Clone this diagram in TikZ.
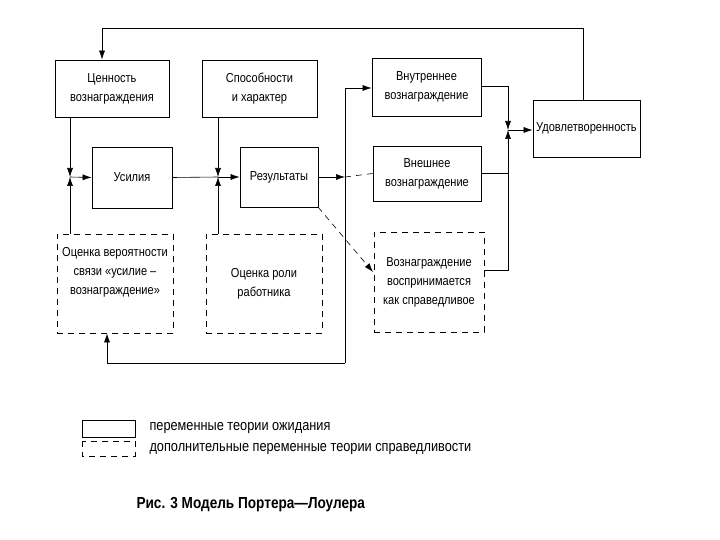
\documentclass[tikz,border=0pt]{standalone}
\usepackage{fontspec}
\setmainfont[FakeStretch=0.85]{Liberation Sans}
\usetikzlibrary{arrows.meta}
\begin{document}
\begin{tikzpicture}[x=1pt,y=-1pt,
 box/.style={draw,thick,align=center,font=\fontsize{13}{19}\selectfont,inner sep=1pt},
 dbox/.style={box,dashed,dash pattern=on 6pt off 5pt},
 ln/.style={semithick},
 ar/.style={semithick,-{Latex[length=9pt,width=6pt]}}]
\path[use as bounding box] (0,0) rectangle (720,540);
\node[box,minimum width=114,minimum height=57] (cen) at (112,88.5) {Ценность\\вознаграждения};
\node[box,minimum width=115,minimum height=57] (spo) at (259.5,88.5) {Способности\\и характер};
\node[box,minimum width=80,minimum height=61] (usi) at (132,177.5) {Усилия};
\node[box,minimum width=78,minimum height=60] (res) at (279,177) {Результаты};
\node[dbox,minimum width=116,minimum height=99] (ocv) at (115,283.5) {Оценка вероятности\\связи «усилие –\\вознаграждение»\\[6pt]};
\node[dbox,minimum width=116,minimum height=99] (ocr) at (264,283.5) {Оценка роли\\работника};
\node[box,minimum width=109,minimum height=58] (vnu) at (426.5,87) {Внутреннее\\вознаграждение};
\node[box,minimum width=108,minimum height=55] (vne) at (427,173.5) {Внешнее\\вознаграждение};
\node[dbox,minimum width=110,minimum height=100] (spr) at (429,282) {Вознаграждение\\воспринимается\\как справедливое};
\node[box,minimum width=107,minimum height=57] (udo) at (586.5,128.5) {Удовлетворенность};
\coordinate (j1) at (70,177);
\coordinate (j2) at (218,177);
\coordinate (j3) at (345,177);
\coordinate (j4) at (508,130);
\draw[ar] (udo.north -| 583,0) |- (102,28) -- (cen.north -| 102,0);
\draw[ar] (cen.south -| j1) -- (j1);
\draw[ar] (ocv.north -| j1) -- (j1);
\draw[ar] (j1) -- (usi.west);
\draw[ar] (spo.south -| j2) -- (j2);
\draw[ar] (ocr.north -| j2) -- (j2);
\draw[ln] (usi.east) -- (j2);
\draw[ar] (j2) -- (res.west);
\draw[ar] (res.east) -- (j3);
\draw[ln,dashed,dash pattern=on 6pt off 5pt] (j3) -- (vne.west);
\draw[ar] (345,363) |- (vnu.west |- 0,88);
\draw[ar] (345,363) -| (ocv.south -| 107,0);
\draw[ar,dashed,dash pattern=on 6pt off 5pt] (318,207) -- (373,272);
\draw[ar] (vnu.east |- 0,86) -| (j4);
\draw[ln] (vne.east) -- (508,173.5);
\draw[ar] (spr.east |- 0,270) -| (j4);
\draw[ar] (j4) -- (udo.west |- j4);
\draw[thick] (82,420) rectangle (135,437);
\draw[thick,dashed,dash pattern=on 6pt off 5pt] (82,441) rectangle (135,456);
\node[anchor=west,font=\fontsize{15}{18}\selectfont] (l1) at (146,428) {переменные теории ожидания};
\node[anchor=west,font=\fontsize{15}{18}\selectfont] (l2) at (146,449) {дополнительные переменные теории справедливости};
\node[anchor=west,font=\bfseries\fontsize{16}{18}\selectfont] (cap) at (133,505) {Рис. 3 Модель Портера—Лоулера};
\end{tikzpicture}
\end{document}
